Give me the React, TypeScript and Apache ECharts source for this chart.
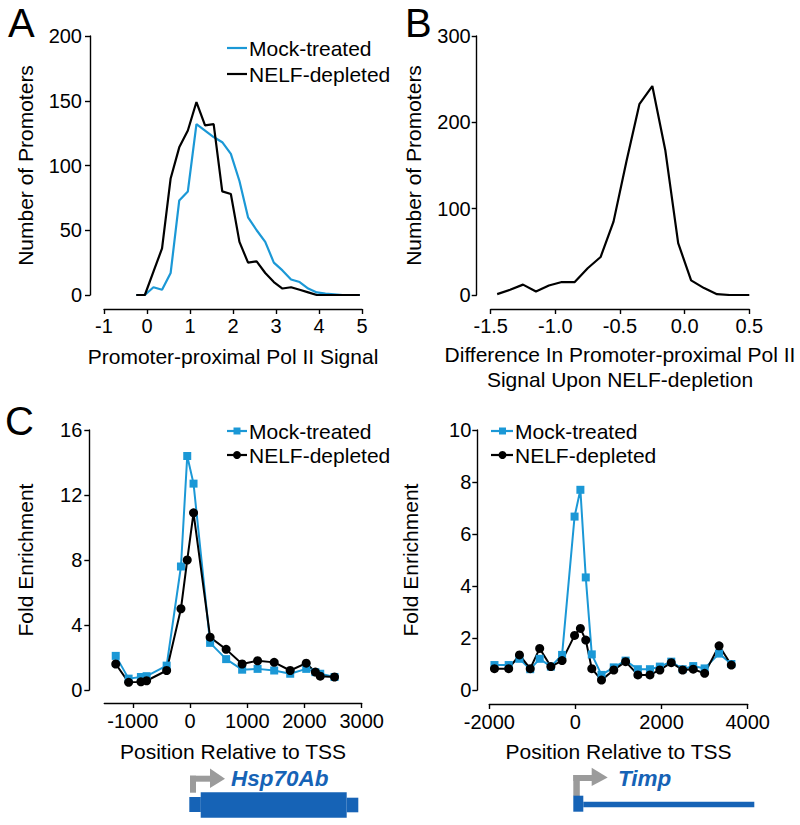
import React, { useEffect, useRef } from 'react';
import * as echarts from 'echarts';

const FONT = '"Liberation Sans", Arial, Helvetica, sans-serif';
const MOCK_COLOR = '#1b98d6';
const NELF_COLOR = '#000000';
const GENE_BLUE = '#1663b6';
const ARROW_GRAY = '#9b9b9b';

// ---- Panel A: distribution of promoter-proximal Pol II signal ----
const signalBins = [-0.25, -0.05, 0.15, 0.35, 0.55, 0.75, 0.95, 1.15, 1.35, 1.55, 1.75, 1.95, 2.15, 2.35, 2.55, 2.75, 2.95, 3.15, 3.35, 3.55, 3.75, 3.95, 4.15, 4.35, 4.55, 4.75, 4.95];
const signalMock = [0, 0, 6, 4, 17, 73, 80, 132, 127, 122, 118, 109, 88, 60, 50, 41, 25, 19, 12, 10, 5, 2, 1, 0.5, 0, 0, 0];
const signalNelf = [0, 0, 18, 36, 90, 114, 127, 149, 131, 132, 80, 78, 41, 25, 26, 17, 10, 5, 6, 4, 2, 0, 0, 0, 0, 0, 0];

// ---- Panel B: difference upon NELF depletion ----
const diffBins = [-1.45, -1.35, -1.25, -1.15, -1.05, -0.95, -0.85, -0.75, -0.65, -0.55, -0.45, -0.35, -0.25, -0.15, -0.05, 0.05, 0.15, 0.25, 0.35, 0.45, 0.5];
const diffCounts = [1, 6, 12, 4, 11, 15, 15, 31, 44, 85, 155, 221, 242, 168, 60, 17, 8, 1, 0, 0, 0];

// ---- Panel C left: Hsp70Ab ----
const hspPositions = [-1300, -1075, -860, -760, -410, -160, -50, 60, 350, 630, 910, 1180, 1470, 1750, 2030, 2190, 2275, 2525];
const hspMock = [2.1, 0.7, 0.8, 0.85, 1.5, 7.6, 14.4, 12.7, 2.9, 1.9, 1.25, 1.3, 1.2, 1.0, 1.3, 1.1, 1.0, 0.8];
const hspNelf = [1.6, 0.47, 0.5, 0.57, 1.2, 5.0, 8.0, 10.9, 3.25, 2.5, 1.6, 1.8, 1.7, 1.2, 1.65, 1.1, 0.85, 0.8];
const hspTicks = [-1000, 0, 1000, 2000, 3000];

// ---- Panel C right: Timp ----
const timpPositions = [-1880, -1550, -1300, -1050, -830, -570, -310, -20, 115, 240, 380, 605, 890, 1165, 1450, 1730, 1960, 2225, 2490, 2735, 3000, 3335, 3620];
const timpMock = [0.96, 0.96, 1.2, 0.8, 1.2, 0.9, 1.35, 6.67, 7.7, 4.33, 1.37, 0.58, 0.87, 1.13, 0.8, 0.8, 0.9, 1.09, 0.8, 0.92, 0.83, 1.4, 1.0];
const timpNelf = [0.82, 0.82, 1.35, 0.82, 1.6, 0.9, 1.13, 2.1, 2.37, 1.92, 0.82, 0.38, 0.77, 1.09, 0.58, 0.58, 0.77, 1.05, 0.77, 0.8, 0.64, 1.7, 0.96];

const pairs = (xs: number[], ys: number[]) => xs.map((x, i) => [x, ys[i]]);
const plain = (v: number) => String(v);

const axisLineStyle = { color: '#000', width: 1.4 };

function makeXAxis(gridIndex: number, extra: any) {
  return {
    type: 'value',
    gridIndex,
    splitLine: { show: false },
    axisLine: { show: true, onZero: false, lineStyle: axisLineStyle },
    axisTick: { show: true, inside: false, length: 5, lineStyle: axisLineStyle },
    nameLocation: 'middle',
    nameTextStyle: { color: '#000', fontSize: 21, fontFamily: FONT, lineHeight: 25 },
    ...extra,
    axisLabel: { color: '#000', fontSize: 20, fontFamily: FONT, margin: 7, formatter: plain, ...(extra.axisLabel || {}) },
  };
}

function makeYAxis(gridIndex: number, extra: any) {
  return {
    type: 'value',
    gridIndex,
    splitLine: { show: false },
    axisLine: { show: true, onZero: false, lineStyle: axisLineStyle },
    axisTick: { show: true, inside: false, length: 5, lineStyle: axisLineStyle },
    nameLocation: 'middle',
    nameRotate: 90,
    nameTextStyle: { color: '#000', fontSize: 21, fontFamily: FONT },
    ...extra,
    axisLabel: { color: '#000', fontSize: 20, fontFamily: FONT, margin: 7, formatter: plain, ...(extra.axisLabel || {}) },
  };
}

function textEl(text: string, x: number, y: number, size: number, opts: any = {}) {
  return {
    type: 'text',
    x,
    y,
    style: {
      text,
      fontSize: size,
      fontFamily: FONT,
      fill: opts.fill || '#000',
      fontWeight: opts.fontWeight || 'normal',
      fontStyle: opts.fontStyle || 'normal',
      align: opts.align || 'left',
      verticalAlign: 'middle',
    },
  };
}

function legendLine(x1: number, x2: number, y: number, color: string) {
  return { type: 'line', shape: { x1, y1: y, x2, y2: y }, style: { stroke: color, lineWidth: 2.2 } };
}

export default function App() {
  const ref = useRef<HTMLDivElement>(null);

  useEffect(() => {
    if (!ref.current) return;
    const chart = echarts.init(ref.current, undefined, { renderer: 'svg' });

    const option: any = {
      animation: false,
      backgroundColor: '#ffffff',
      textStyle: { fontFamily: FONT },
      grid: [
        { left: 104, top: 36, width: 258, height: 259 },
        { left: 490.7, top: 36, width: 258.6, height: 259 },
        { left: 104.3, top: 430, width: 257.4, height: 260 },
        { left: 489.3, top: 430, width: 258.4, height: 260 },
      ],
      xAxis: [
        makeXAxis(0, { min: -1, max: 5, interval: 1, offset: 14, name: 'Promoter-proximal Pol II Signal', nameGap: 35 }),
        makeXAxis(1, {
          min: -1.5, max: 0.5, interval: 0.5, offset: 14,
          name: 'Difference In Promoter-proximal Pol II\nSignal Upon NELF-depletion', nameGap: 33,
          axisLabel: { formatter: (v: number) => v.toFixed(1) },
        }),
        makeXAxis(2, {
          min: -1500, max: 3000, offset: 13,
          name: 'Position Relative to TSS', nameGap: 36,
          axisTick: { show: true, inside: false, length: 5, lineStyle: axisLineStyle, customValues: hspTicks },
          axisLabel: { customValues: hspTicks, margin: 8 },
        }),
        makeXAxis(3, {
          min: -2000, max: 4000, interval: 2000, offset: 14, name: 'Position Relative to TSS', nameGap: 35,
          axisLabel: { margin: 8 },
        }),
      ],
      yAxis: [
        makeYAxis(0, { min: 0, max: 200, interval: 50, offset: 14, name: 'Number of Promoters', nameGap: 54, axisLabel: { margin: 8 } }),
        makeYAxis(1, { min: 0, max: 300, interval: 100, offset: 14, name: 'Number of Promoters', nameGap: 53, axisLabel: { margin: 6 } }),
        makeYAxis(2, { min: 0, max: 16, interval: 4, offset: 15, name: 'Fold Enrichment', nameGap: 53, axisLabel: { margin: 7 } }),
        makeYAxis(3, { min: 0, max: 10, interval: 2, offset: 12, name: 'Fold Enrichment', nameGap: 56, axisLabel: { margin: 6 } }),
      ],
      series: [
        {
          name: 'Mock-treated', type: 'line', xAxisIndex: 0, yAxisIndex: 0,
          data: pairs(signalBins, signalMock), symbol: 'none',
          lineStyle: { color: MOCK_COLOR, width: 2.2 }, itemStyle: { color: MOCK_COLOR },
        },
        {
          name: 'NELF-depleted', type: 'line', xAxisIndex: 0, yAxisIndex: 0,
          data: pairs(signalBins, signalNelf), symbol: 'none',
          lineStyle: { color: NELF_COLOR, width: 2.2 }, itemStyle: { color: NELF_COLOR },
        },
        {
          name: 'Difference', type: 'line', xAxisIndex: 1, yAxisIndex: 1,
          data: pairs(diffBins, diffCounts), symbol: 'none',
          lineStyle: { color: NELF_COLOR, width: 2.2 }, itemStyle: { color: NELF_COLOR },
        },
        {
          name: 'Mock-treated', type: 'line', xAxisIndex: 2, yAxisIndex: 2,
          data: pairs(hspPositions, hspMock), symbol: 'rect', symbolSize: 8, showAllSymbol: true,
          lineStyle: { color: MOCK_COLOR, width: 2 }, itemStyle: { color: MOCK_COLOR },
        },
        {
          name: 'NELF-depleted', type: 'line', xAxisIndex: 2, yAxisIndex: 2,
          data: pairs(hspPositions, hspNelf), symbol: 'circle', symbolSize: 9, showAllSymbol: true,
          lineStyle: { color: NELF_COLOR, width: 2 }, itemStyle: { color: NELF_COLOR },
        },
        {
          name: 'Mock-treated', type: 'line', xAxisIndex: 3, yAxisIndex: 3,
          data: pairs(timpPositions, timpMock), symbol: 'rect', symbolSize: 8, showAllSymbol: true,
          lineStyle: { color: MOCK_COLOR, width: 2 }, itemStyle: { color: MOCK_COLOR },
        },
        {
          name: 'NELF-depleted', type: 'line', xAxisIndex: 3, yAxisIndex: 3,
          data: pairs(timpPositions, timpNelf), symbol: 'circle', symbolSize: 9, showAllSymbol: true,
          lineStyle: { color: NELF_COLOR, width: 2 }, itemStyle: { color: NELF_COLOR },
        },
      ],
      graphic: [
        // panel letters
        textEl('A', 8, 23, 40),
        textEl('B', 405, 23, 40),
        textEl('C', 5, 421, 40),
        // panel A legend
        legendLine(227, 247, 48, MOCK_COLOR),
        textEl('Mock-treated', 249, 48, 21),
        legendLine(227, 247, 74, NELF_COLOR),
        textEl('NELF-depleted', 249, 74, 21),
        // panel C left legend
        legendLine(227, 247, 431, MOCK_COLOR),
        { type: 'rect', shape: { x: 233.5, y: 427.5, width: 7, height: 7 }, style: { fill: MOCK_COLOR } },
        textEl('Mock-treated', 249, 431, 21),
        legendLine(227, 247, 455, NELF_COLOR),
        { type: 'circle', shape: { cx: 237, cy: 455, r: 4 }, style: { fill: NELF_COLOR } },
        textEl('NELF-depleted', 249, 455, 21),
        // panel C right legend
        legendLine(491, 513, 431, MOCK_COLOR),
        { type: 'rect', shape: { x: 499, y: 427.5, width: 7, height: 7 }, style: { fill: MOCK_COLOR } },
        textEl('Mock-treated', 515, 431, 21),
        legendLine(491, 513, 455, NELF_COLOR),
        { type: 'circle', shape: { cx: 502.5, cy: 455, r: 4 }, style: { fill: NELF_COLOR } },
        textEl('NELF-depleted', 515, 455, 21),
        // Hsp70Ab gene model
        { type: 'rect', shape: { x: 190, y: 775.7, width: 6, height: 17 }, style: { fill: ARROW_GRAY } },
        { type: 'rect', shape: { x: 190, y: 775.7, width: 21, height: 6 }, style: { fill: ARROW_GRAY } },
        { type: 'polygon', shape: { points: [[210, 768.5], [225, 778.7], [210, 788]] }, style: { fill: ARROW_GRAY } },
        textEl('Hsp70Ab', 231, 778.5, 22.5, { fill: GENE_BLUE, fontWeight: 'bold', fontStyle: 'italic' }),
        { type: 'rect', shape: { x: 189.3, y: 797, width: 11.5, height: 15 }, style: { fill: GENE_BLUE } },
        { type: 'rect', shape: { x: 200.7, y: 792.3, width: 146, height: 25.5 }, style: { fill: GENE_BLUE } },
        { type: 'rect', shape: { x: 346.7, y: 797.7, width: 11.6, height: 14.6 }, style: { fill: GENE_BLUE } },
        // Timp gene model
        { type: 'rect', shape: { x: 573.3, y: 775, width: 6.5, height: 21 }, style: { fill: ARROW_GRAY } },
        { type: 'rect', shape: { x: 573.3, y: 775, width: 19, height: 6 }, style: { fill: ARROW_GRAY } },
        { type: 'polygon', shape: { points: [[591.7, 767.7], [607.7, 777.5], [591.7, 786]] }, style: { fill: ARROW_GRAY } },
        textEl('Timp', 618, 778.5, 22.5, { fill: GENE_BLUE, fontWeight: 'bold', fontStyle: 'italic' }),
        { type: 'rect', shape: { x: 573.3, y: 795.7, width: 10, height: 16 }, style: { fill: GENE_BLUE } },
        { type: 'rect', shape: { x: 583.3, y: 801.7, width: 171, height: 5.6 }, style: { fill: GENE_BLUE } },
      ],
    };

    chart.setOption(option);
    return () => chart.dispose();
  }, []);

  return (
    <div
      ref={ref}
      style={{ position: 'absolute', left: 0, top: 0, width: 800, height: 825, background: '#fff' }}
    />
  );
}
